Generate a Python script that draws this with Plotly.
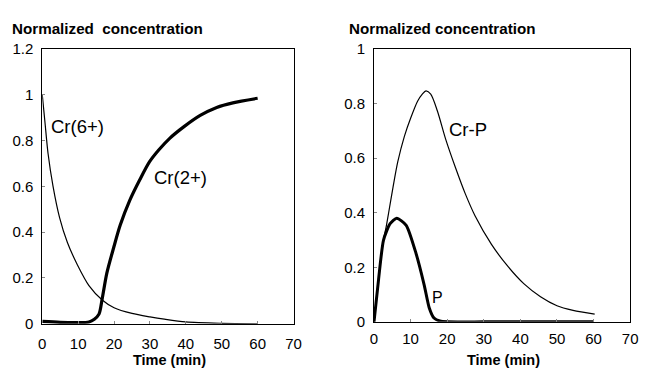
import plotly.graph_objects as go

# ---- Left panel data ----
t_cr6 = [0, 0.75, 1.6, 3, 4.8, 7, 9.8, 13, 16.7, 20, 25, 30, 34, 40, 50, 60]
cr6 = [1.0, 0.88, 0.745, 0.60, 0.465, 0.355, 0.257, 0.167, 0.104, 0.07, 0.045, 0.03, 0.02, 0.008, 0.002, 0.0]

t_cr2 = [0, 5, 10, 13, 14.5, 15.8, 16.7, 18.0, 19.9, 21.7, 24.4, 27.2, 29.9, 32.5, 35.5, 39.4, 44, 48.6, 53.1, 60]
cr2 = [0.01, 0.006, 0.005, 0.008, 0.02, 0.042, 0.11, 0.222, 0.333, 0.43, 0.54, 0.63, 0.708, 0.76, 0.81, 0.86, 0.91, 0.945, 0.965, 0.985]

# ---- Right panel data ----
t_crp = [0, 1.25, 2.6, 3.4, 4.0, 5.2, 6.5, 8.3, 10.1, 11.9, 13.2, 14.2, 15.5, 17.3, 19.6, 22.3, 24.9, 27.6,
         32.1, 36.6, 41.0, 45.5, 50.0, 54.4, 60.3]
crp = [0, 0.156, 0.30, 0.354, 0.40, 0.494, 0.587, 0.68, 0.75, 0.809, 0.835, 0.847, 0.835, 0.774, 0.669, 0.564,
       0.471, 0.389, 0.284, 0.203, 0.139, 0.092, 0.059, 0.042, 0.028]

t_p = [0, 1.25, 2.6, 4.4, 6.2, 8.8, 11.5, 13.75, 15.1, 16.4, 18, 20, 30, 40, 50, 60]
p = [0, 0.156, 0.30, 0.36, 0.38, 0.354, 0.25, 0.133, 0.051, 0.014, 0.003, 0.0, 0.0, 0.0, 0.0, 0.0]

left_yticks = [0, 0.2, 0.4, 0.6, 0.8, 1.0, 1.2]
left_yticklabels = ["0", "0.2", "0.4", "0.6", "0.8", "1", "1.2"]
right_yticks = [0, 0.2, 0.4, 0.6, 0.8, 1.0]
right_yticklabels = ["0", "0.2", "0.4", "0.6", "0.8", "1"]
xticks = [0, 10, 20, 30, 40, 50, 60, 70]

FONT = "Arial, Liberation Sans, Helvetica, sans-serif"
W, H = 647, 368

fig = go.Figure()
fig.add_trace(go.Scatter(x=t_cr6, y=cr6, mode="lines", line=dict(color="black", width=1.2, shape="spline", smoothing=0.8),
                         xaxis="x", yaxis="y", name="Cr(6+)"))
fig.add_trace(go.Scatter(x=t_cr2, y=cr2, mode="lines", line=dict(color="black", width=3.2, shape="spline", smoothing=0.8),
                         xaxis="x", yaxis="y", name="Cr(2+)"))
fig.add_trace(go.Scatter(x=t_crp, y=crp, mode="lines", line=dict(color="black", width=1.2, shape="spline", smoothing=0.8),
                         xaxis="x2", yaxis="y2", name="Cr-P"))
fig.add_trace(go.Scatter(x=t_p, y=p, mode="lines", line=dict(color="black", width=3.0, shape="spline", smoothing=0.6),
                         xaxis="x2", yaxis="y2", name="P"))

axis_common = dict(showline=True, linecolor="black", linewidth=1, mirror=True, showgrid=False, zeroline=False,
                   ticks="inside", ticklen=3, tickcolor="#888", tickwidth=1,
                   tickfont=dict(family=FONT, size=15, color="black"))

fig.update_layout(
    width=W, height=H, autosize=False,
    margin=dict(l=0, r=0, t=0, b=0),
    paper_bgcolor="white", plot_bgcolor="white",
    showlegend=False,
    xaxis=dict(domain=[39 / W, 295 / W], range=[0, 70], tickvals=xticks, anchor="y", ticklabelstandoff=6,
               **axis_common),
    yaxis=dict(domain=[1 - 330 / H, 1 - 42 / H], range=[0, 1.2], tickvals=left_yticks, ticktext=left_yticklabels,
               anchor="x", ticklabelstandoff=5, **axis_common),
    xaxis2=dict(domain=[377 / W, 638 / W], range=[0, 70], tickvals=xticks, anchor="y2", ticklabelstandoff=3,
                **axis_common),
    yaxis2=dict(domain=[1 - 328 / H, 1 - 42 / H], range=[0, 1], tickvals=right_yticks, ticktext=right_yticklabels,
                anchor="x2", ticklabelstandoff=5, **axis_common),
)

ann = []
# titles
ann.append(dict(text="<b>Normalized&nbsp; concentration</b>", x=6 / W, y=1 - 20 / H, xref="paper", yref="paper",
                xanchor="left", yanchor="middle", showarrow=False, font=dict(family=FONT, size=15.2, color="black")))
ann.append(dict(text="<b>Normalized concentration</b>", x=349 / W, y=1 - 20 / H, xref="paper", yref="paper",
                xanchor="left", yanchor="middle", showarrow=False, font=dict(family=FONT, size=15.2, color="black")))
ann.append(dict(text="<b>Time (min)</b>", x=168.5 / W, y=1 - 368.5 / H, xref="paper", yref="paper",
                xanchor="center", yanchor="middle", showarrow=False, font=dict(family=FONT, size=14.5, color="black")))
ann.append(dict(text="<b>Time (min)</b>", x=508.5 / W, y=1 - 368 / H, xref="paper", yref="paper",
                xanchor="center", yanchor="middle", showarrow=False, font=dict(family=FONT, size=14.5, color="black")))
# curve labels
ann.append(dict(text="Cr(6+)", x=9.8, y=0.86, xref="x", yref="y", xanchor="center", yanchor="middle",
                showarrow=False, font=dict(family=FONT, size=18.5, color="black")))
ann.append(dict(text="Cr(2+)", x=38.6, y=0.641, xref="x", yref="y", xanchor="center", yanchor="middle",
                showarrow=False, font=dict(family=FONT, size=18.5, color="black")))
ann.append(dict(text="Cr-P", x=25.6, y=0.705, xref="x2", yref="y2", xanchor="center", yanchor="middle",
                showarrow=False, font=dict(family=FONT, size=18.5, color="black")))
ann.append(dict(text="P", x=17.4, y=0.09, xref="x2", yref="y2", xanchor="center", yanchor="middle",
                showarrow=False, font=dict(family=FONT, size=16, color="black")))
fig.update_layout(annotations=ann)

fig.write_html("out.html")
